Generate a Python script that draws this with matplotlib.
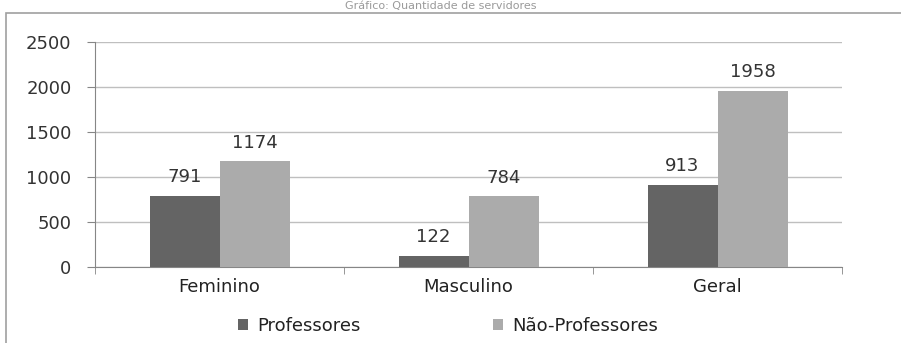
import matplotlib
matplotlib.use("Agg")
import matplotlib.pyplot as plt
import numpy as np
from matplotlib.patches import Rectangle

categories = ["Feminino", "Masculino", "Geral"]
series_names = ["Professores", "Não-Professores"]
professores = [791, 122, 913]
nao_professores = [1174, 784, 1958]
yticks = [0, 500, 1000, 1500, 2000, 2500]
title = "Gráfico: Quantidade de servidores"

plt.rcParams['font.family'] = ['DejaVu Sans']
fig = plt.figure(figsize=(9.01, 3.43), dpi=100)
ax = fig.add_axes([95/901, 1-267/343, (842-95)/901, (267-42)/343])

fs = 13
c_dark = "#646464"
c_light = "#ababab"
x = np.arange(len(categories))
w = 70/249
b1 = ax.bar(x - w/2, professores, width=w, color=c_dark, zorder=3)
b2 = ax.bar(x + w/2, nao_professores, width=w, color=c_light, zorder=3)

for bars, vals in ((b1, professores), (b2, nao_professores)):
    for r, v in zip(bars, vals):
        ax.annotate(str(v), (r.get_x()+r.get_width()/2, v), xytext=(0, 7),
                    textcoords="offset points", ha="center", va="bottom",
                    fontsize=fs, color="#333333")

ax.set_xlim(-0.5, 2.5)
ax.set_ylim(0, 2500)
ax.set_yticks(yticks)
ax.set_yticklabels([str(t) for t in yticks], fontsize=fs, color="#333333")
ax.yaxis.grid(True, color="#bfbfbf", linewidth=1, zorder=0)
ax.set_axisbelow(True)
ax.set_xticks(x)
ax.set_xticklabels(categories, fontsize=fs, color="#222222")
ax.tick_params(axis='x', length=0, pad=8)
ax.set_xticks([-0.5, 0.5, 1.5, 2.5], minor=True)
ax.tick_params(axis='x', which='minor', length=5, color="#868686")
ax.tick_params(axis='y', length=6, color="#868686", pad=11)
for s in ["top", "right"]:
    ax.spines[s].set_visible(False)
for s in ["left", "bottom"]:
    ax.spines[s].set_color("#868686")

leg = fig.legend([b1, b2], series_names, loc="center", bbox_to_anchor=(448/901, 1-326/343),
                 ncol=2, frameon=False, fontsize=fs, handlelength=0.6, handleheight=0.6,
                 handletextpad=0.5, columnspacing=7.3, labelcolor="#222222")

fig.text(441/901, 1-1/343, title, ha="center", va="top", fontsize=8, color="#9a9a9a")

fig.patches.append(Rectangle((6/901, -0.1), 1.2, 1-13/343+0.1, transform=fig.transFigure,
                             fill=False, edgecolor="#a0a0a0", linewidth=1.2))

fig.savefig("out.png", dpi=100)
